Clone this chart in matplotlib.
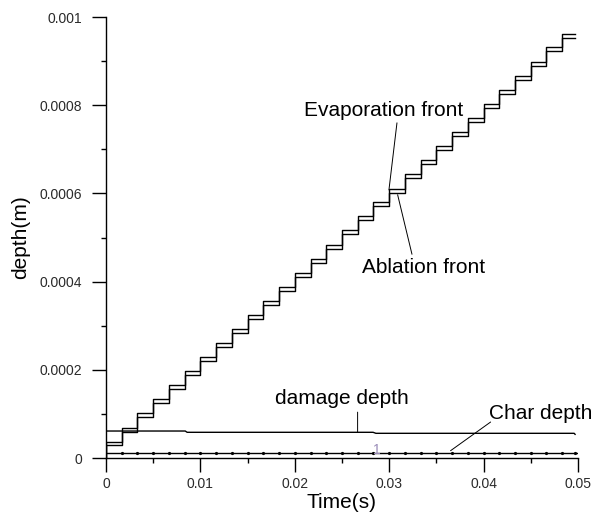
import matplotlib
matplotlib.use("Agg")
import matplotlib.pyplot as plt

plt.rcParams['font.family'] = ['Liberation Sans', 'DejaVu Sans']

# =========================
# Data
# =========================
step_t = [0.0, 0.00167, 0.00333, 0.005, 0.00667, 0.00833, 0.01, 0.01167, 0.01333,
          0.015, 0.01667, 0.01833, 0.02, 0.02167, 0.02333, 0.025, 0.02667, 0.02833,
          0.03, 0.03167, 0.03333, 0.035, 0.03667, 0.03833, 0.04, 0.04167, 0.04333,
          0.045, 0.04667, 0.04833, 0.0497]

evap_depth = [0.000037, 0.000069, 0.000101, 0.000133, 0.000165, 0.000197, 0.000228,
              0.00026, 0.000292, 0.000324, 0.000356, 0.000388, 0.00042, 0.000452,
              0.000484, 0.000516, 0.000548, 0.00058, 0.000611, 0.000643, 0.000675,
              0.000707, 0.000739, 0.000771, 0.000803, 0.000835, 0.000867, 0.000899,
              0.000931, 0.000962, 0.000962]

abl_depth = [0.000029, 0.00006, 0.000092, 0.000124, 0.000156, 0.000188, 0.00022,
             0.000251, 0.000283, 0.000315, 0.000347, 0.000379, 0.000411, 0.000443,
             0.000475, 0.000507, 0.000539, 0.000571, 0.000602, 0.000634, 0.000666,
             0.000698, 0.00073, 0.000762, 0.000794, 0.000826, 0.000858, 0.00089,
             0.000922, 0.000953, 0.000953]

damage_t = [0.0, 0.0084, 0.0086, 0.0283, 0.0286, 0.0496, 0.0497]
damage_depth = [0.0000612, 0.0000612, 0.0000583, 0.0000583, 0.000056, 0.000056, 0.0000537]

char_t = [0.0, 0.05]
char_depth = [0.0000105, 0.0000105]
char_marks = [0.00167, 0.00333, 0.005, 0.00667, 0.00833, 0.01, 0.01167, 0.01333,
              0.015, 0.01667, 0.01833, 0.02, 0.02167, 0.02333, 0.025, 0.02667, 0.02833,
              0.03, 0.03167, 0.03333, 0.035, 0.03667, 0.03833, 0.04, 0.04167, 0.04333,
              0.045, 0.04667, 0.04833, 0.0497]
char_marks_depth = [0.0000115] * len(char_marks)

x_ticks = [0, 0.01, 0.02, 0.03, 0.04, 0.05]
x_labels = ["0", "0.01", "0.02", "0.03", "0.04", "0.05"]
y_ticks = [0, 0.0002, 0.0004, 0.0006, 0.0008, 0.001]
y_labels = ["0", "0.0002", "0.0004", "0.0006", "0.0008", "0.001"]

# =========================
# Figure
# =========================
fig = plt.figure(figsize=(6.02, 5.17), dpi=100)
ax = fig.add_axes([0.176, 0.1141, 0.784, 0.853])

lw = 1.0
ax.step([0.0] + step_t, [0.0] + evap_depth, where='post', color='k', lw=lw)
ax.step([0.0] + step_t, [0.0] + abl_depth, where='post', color='k', lw=lw)
ax.plot(damage_t, damage_depth, color='k', lw=lw)
ax.plot(char_t, char_depth, color='k', lw=lw)
ax.plot(char_marks, char_marks_depth, ls='none', marker='o', ms=1.3, color='k')

ax.set_xlim(0, 0.05)
ax.set_ylim(0, 0.001)

ax.set_xticks(x_ticks)
ax.set_xticklabels(x_labels)
ax.set_yticks(y_ticks)
ax.set_yticklabels(y_labels)
ax.set_xticks([0.005, 0.015, 0.025, 0.035, 0.045], minor=True)
ax.set_yticks([0.0001, 0.0003, 0.0005, 0.0007, 0.0009], minor=True)
ax.tick_params(which='major', direction='out', length=10, width=1, labelsize=10,
               labelcolor='#2a2a2a')
ax.tick_params(axis='y', which='major', pad=7)
ax.tick_params(axis='x', which='major', pad=4)
ax.tick_params(which='minor', direction='out', length=3.6, width=1)

for side in ['top', 'right']:
    ax.spines[side].set_visible(False)
for side in ['left', 'bottom']:
    ax.spines[side].set_linewidth(1)

ax.set_xlabel("Time(s)", fontsize=15, labelpad=1)
ax.set_ylabel("depth(m)", fontsize=15, labelpad=7)

# =========================
# Labels and leader lines
# =========================
lab = dict(fontsize=15, ha='center', va='center', color='k')
ln = dict(arrowstyle='-', color='k', lw=0.7, shrinkA=0, shrinkB=0)

ax.text(0.0294, 0.000789, "Evaporation front", **lab)
ax.annotate('', xy=(0.02998, 0.000608), xytext=(0.03083, 0.00076), arrowprops=ln)

ax.text(0.03363, 0.000433, "Ablation front", **lab)
ax.annotate('', xy=(0.0309, 0.000597), xytext=(0.03242, 0.000462), arrowprops=ln)

ax.text(0.0250, 0.000136, "damage depth", **lab)
ax.annotate('', xy=(0.02666, 0.000059), xytext=(0.02666, 0.000104), arrowprops=ln)

ax.text(0.04608, 0.000102, "Char depth", **lab)
ax.annotate('', xy=(0.03651, 0.0000166), xytext=(0.04075, 0.0000816), arrowprops=ln)

ax.text(0.02868, 0.000019, "1", fontsize=10, ha='center', va='center', color='#9a8cb8')

fig.savefig("out.png", dpi=100)
